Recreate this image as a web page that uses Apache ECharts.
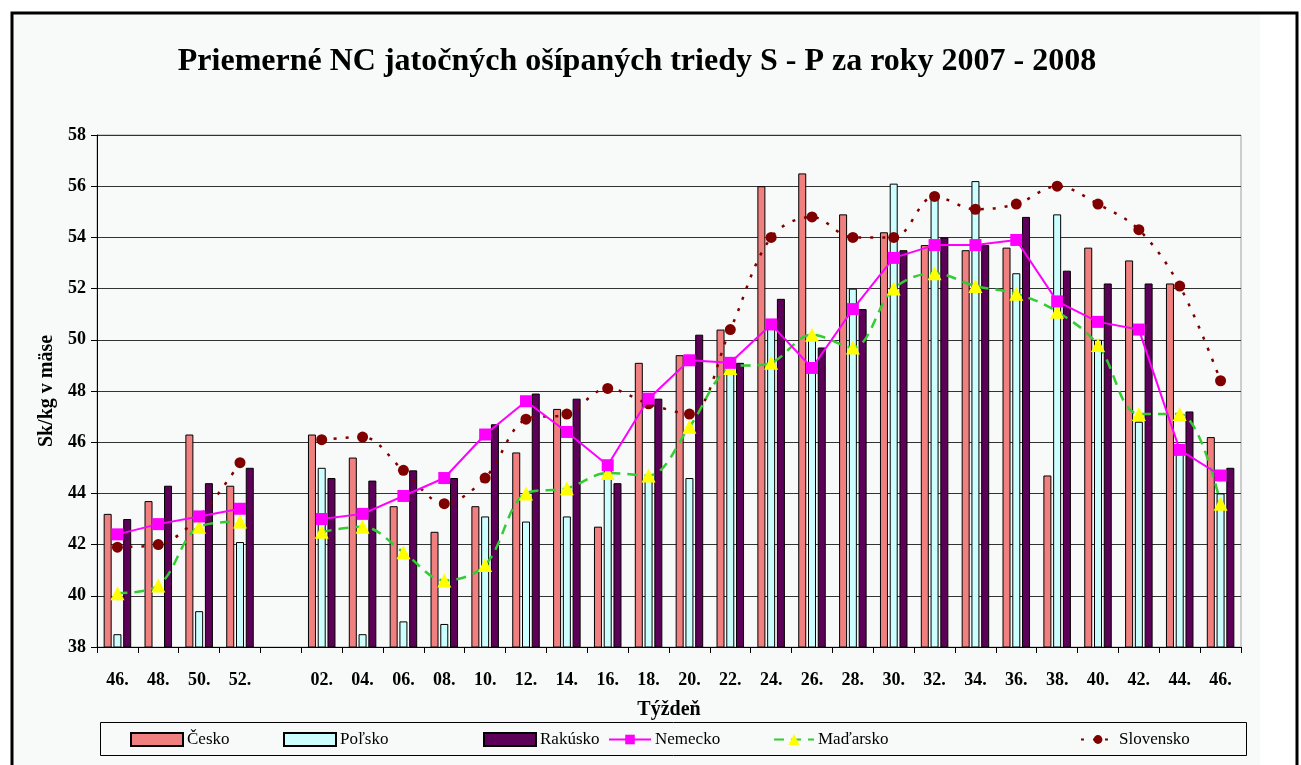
<!DOCTYPE html>
<html>
<head>
<meta charset="utf-8">
<script src="https://cdn.jsdelivr.net/npm/echarts@6/dist/echarts.min.js"></script>
<style>
html,body{margin:0;padding:0;background:#ffffff;}
#chart{width:1301px;height:765px;}
</style>
</head>
<body>
<div id="chart"></div>
<script>
var categories = ['46.','48.','50.','52.','','02.','04.','06.','08.','10.','12.','14.','16.','18.','20.','22.','24.','26.','28.','30.','32.','34.','36.','38.','40.','42.','44.','46.'];
var cesko     = [43.2,43.7,46.3,44.3,null,46.3,45.4,43.5,42.5,43.5,45.6,47.3,42.7,49.1,49.4,50.4,56.0,56.5,54.9,54.2,53.7,53.5,53.6,44.7,53.6,53.1,52.2,46.2];
var polsko    = [38.5,null,39.4,42.1,null,45.0,38.5,39.0,38.9,43.1,42.9,43.1,44.9,44.6,44.6,49.0,50.5,50.2,52.0,56.1,55.6,56.2,52.6,54.9,50.0,46.8,45.6,44.0];
var rakusko   = [43.0,44.3,44.4,45.0,null,44.6,44.5,44.9,44.6,46.7,47.9,47.7,44.4,47.7,50.2,49.1,51.6,49.7,51.2,53.5,54.0,53.7,54.8,52.7,52.2,52.2,47.2,45.0];
var nemecko   = [42.4,42.8,43.1,43.4,null,43.0,43.2,43.9,44.6,46.3,47.6,46.4,45.1,47.7,49.2,49.1,50.6,48.9,51.2,53.2,53.7,53.7,53.9,51.5,50.7,50.4,45.7,44.7];
var madarsko  = [40.1,40.4,42.7,42.9,null,42.5,42.7,41.7,40.6,41.2,44.0,44.2,44.8,44.7,46.6,48.9,49.1,50.2,49.7,52.0,52.6,52.1,51.8,51.1,49.8,47.1,47.1,43.6];
var slovensko = [41.9,42.0,43.1,45.2,null,46.1,46.2,44.9,43.6,44.6,46.9,47.1,48.1,47.5,47.1,50.4,54.0,54.8,54.0,54.0,55.6,55.1,55.3,56.0,55.3,54.3,52.1,48.4];
var seriesNames = ['Česko','Poľsko','Rakúsko','Nemecko','Maďarsko','Slovensko'];
var titleText = 'Priemerné NC jatočných ošípaných triedy S - P za roky 2007 - 2008';
var yName = 'Sk/kg v mäse';
var xName = 'Týždeň';

var FONT = '"Liberation Serif", "Times New Roman", serif';
var chart = echarts.init(document.getElementById('chart'), null, {renderer: 'canvas'});

function legendItem(name, left, w, h, icon) {
  var o = {
    data: [name], left: left, top: 731, padding: 0,
    itemWidth: w, itemHeight: h, itemGap: 0,
    textStyle: {fontFamily: FONT, fontSize: 17, color: '#000', padding: [0,0,0,-1]},
    selectedMode: false
  };
  if (icon) { o.icon = icon; }
  return o;
}

var barBase = {type: 'bar', barWidth: 8, barGap: '22%'};

var option = {
  animation: false,
  backgroundColor: '#ffffff',
  graphic: [
    {type: 'rect', shape: {x: 12, y: 13, width: 1248, height: 760}, style: {fill: '#f7faf8'}, z: -10, silent: true},
    {type: 'rect', shape: {x: 12, y: 13, width: 1285, height: 760}, style: {fill: 'none', stroke: '#000', lineWidth: 3}, z: -5, silent: true},
    {type: 'rect', shape: {x: 100.5, y: 722.5, width: 1146, height: 33}, style: {fill: '#f7faf8', stroke: '#000', lineWidth: 1}, z: -1, silent: true},
    {type: 'text', x: 637, y: 62, style: {text: titleText, font: 'bold 32px ' + FONT, fill: '#000', textAlign: 'center', textVerticalAlign: 'middle'}, silent: true}
  ],
  legend: [
    legendItem('Česko', 130, 52, 13, 'rect'),
    legendItem('Poľsko', 283, 52, 13, 'rect'),
    legendItem('Rakúsko', 483, 52, 13, 'rect'),
    legendItem('Nemecko', 608, 42, 12),
    legendItem('Maďarsko', 773, 40, 14),
    legendItem('Slovensko', 1080, 34, 11)
  ],
  grid: {left: 97, right: 60, top: 135, bottom: 118, show: true, borderColor: '#a0a0a0', borderWidth: 1, backgroundColor: 'transparent'},
  xAxis: {
    type: 'category', data: categories,
    name: xName, nameLocation: 'middle', nameGap: 53,
    nameTextStyle: {fontFamily: FONT, fontSize: 20, fontWeight: 'bold', color: '#000'},
    axisLine: {show: true, lineStyle: {color: '#000', width: 1}},
    axisTick: {show: true, alignWithLabel: false, interval: 0, length: 6, lineStyle: {color: '#000'}},
    axisLabel: {interval: 0, fontFamily: FONT, fontSize: 18, fontWeight: 'bold', color: '#000', margin: 24},
    splitLine: {show: false}
  },
  yAxis: {
    type: 'value', min: 38, max: 58, interval: 2,
    name: yName, nameLocation: 'middle', nameGap: 40, nameRotate: 90,
    nameTextStyle: {fontFamily: FONT, fontSize: 20, fontWeight: 'bold', color: '#000'},
    axisLine: {show: true, lineStyle: {color: '#000', width: 1}},
    axisTick: {show: true, length: 6, lineStyle: {color: '#000'}},
    axisLabel: {fontFamily: FONT, fontSize: 18, fontWeight: 'bold', color: '#000', margin: 11},
    splitLine: {show: true, lineStyle: {color: '#333', width: 1}}
  },
  series: [
    Object.assign({}, barBase, {name: seriesNames[0], data: cesko, itemStyle: {color: '#f08080', borderColor: '#000', borderWidth: 1}}),
    Object.assign({}, barBase, {name: seriesNames[1], data: polsko, itemStyle: {color: '#ccffff', borderColor: '#000', borderWidth: 1}}),
    Object.assign({}, barBase, {name: seriesNames[2], data: rakusko, itemStyle: {color: '#5c0058', borderColor: '#000', borderWidth: 1}}),
    {name: seriesNames[3], type: 'line', data: nemecko, connectNulls: false,
      symbol: 'rect', symbolSize: 12, lineStyle: {color: '#ff00ff', width: 2},
      itemStyle: {color: '#ff00ff'}, z: 5},
    {name: seriesNames[4], type: 'line', data: madarsko, connectNulls: false, smooth: 0.35,
      symbol: 'triangle', symbolSize: 14, lineStyle: {color: '#33cc33', width: 2.5, type: [10, 7]},
      itemStyle: {color: '#ffff00'}, z: 4},
    {name: seriesNames[5], type: 'line', data: slovensko, connectNulls: false, smooth: 0.35,
      symbol: 'circle', symbolSize: 11, lineStyle: {color: '#800000', width: 2.5, type: [3, 9]},
      itemStyle: {color: '#800000'}, z: 3}
  ]
};
chart.setOption(option);
</script>
</body>
</html>
